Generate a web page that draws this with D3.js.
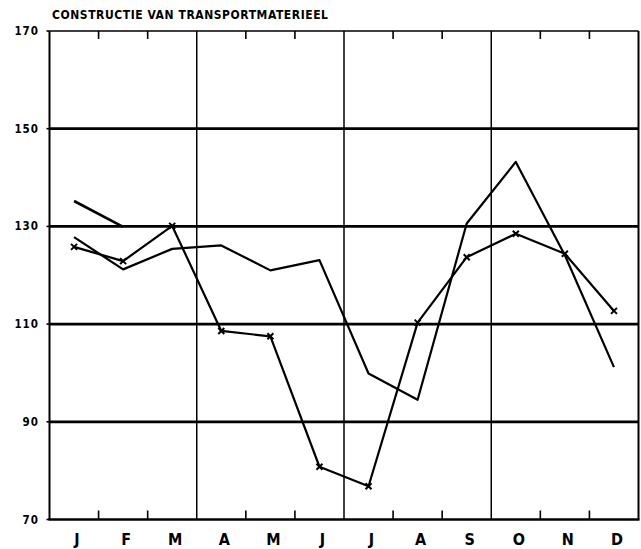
<!DOCTYPE html>
<html>
<head>
<meta charset="utf-8">
<script src="https://cdn.jsdelivr.net/npm/d3@7"></script>
<style>
  body { margin: 0; background: #fff; }
  text { font-family: "DejaVu Sans Condensed", "DejaVu Sans", sans-serif; font-weight: bold; fill: #000; }
</style>
</head>
<body>
<div id="app"></div>
<script>
const WIDTH = 641;
const HEIGHT = 549;

const TITLE = 'CONSTRUCTIE VAN TRANSPORTMATERIEEL';
const months = ['J', 'F', 'M', 'A', 'M', 'J', 'J', 'A', 'S', 'O', 'N', 'D'];
const yTicks = [70, 90, 110, 130, 150, 170];

// series with crosses
const marked = [125.8, 122.9, 130.1, 108.6, 107.5, 80.8, 76.8, 110.3, 123.7, 128.5, 124.4, 112.7];
// plain line
const plain = [127.8, 121.2, 125.4, 126.1, 121, 123.1, 99.9, 94.5, 130.6, 143.2, 124.1, 101.2];
// short piece at the start (jan - feb)
const previous = [135.2, 129.9];

const svg = d3.select('#app')
  .append('svg')
  .attr('width', WIDTH)
  .attr('height', HEIGHT);

// month index -> x, band edges at idx +- 0.5
const x = d3.scaleLinear().domain([-0.5, 11.5]).range([49.5, 638.5]);
const y = d3.scaleLinear().domain([70, 170]).range([519.5, 31]);

// title
svg.append('text')
  .attr('x', 52)
  .attr('y', 19)
  .attr('font-size', 12)
  .attr('textLength', 276)
  .attr('lengthAdjust', 'spacing')
  .text(TITLE);

// horizontal grid lines
svg.selectAll('.hgrid')
  .data(yTicks.filter(d => d > 70 && d < 170))
  .enter()
  .append('line')
  .attr('x1', x(-0.5))
  .attr('x2', x(11.5))
  .attr('y1', d => y(d))
  .attr('y2', d => y(d))
  .attr('stroke', '#000')
  .attr('stroke-width', 2.8);

// top border
svg.append('line')
  .attr('x1', x(-0.5)).attr('x2', x(11.5))
  .attr('y1', y(170)).attr('y2', y(170))
  .attr('stroke', '#000').attr('stroke-width', 1.6);

// bottom axis
svg.append('line')
  .attr('x1', x(-0.5) - 1).attr('x2', x(11.5) + 1)
  .attr('y1', y(70)).attr('y2', y(70))
  .attr('stroke', '#000').attr('stroke-width', 2.4);

// left / right border
[-0.5, 11.5].forEach(v => {
  svg.append('line')
    .attr('x1', x(v)).attr('x2', x(v))
    .attr('y1', y(170)).attr('y2', y(70))
    .attr('stroke', '#000').attr('stroke-width', 2);
});

// quarter lines
svg.selectAll('.quarter')
  .data([2.5, 5.5, 8.5])
  .enter()
  .append('line')
  .attr('x1', d => x(d)).attr('x2', d => x(d))
  .attr('y1', y(170)).attr('y2', y(70))
  .attr('stroke', '#000').attr('stroke-width', 1.5);

// month ticks top and bottom
const tickIdx = [0.5, 1.5, 3.5, 4.5, 6.5, 7.5, 9.5, 10.5];
svg.selectAll('.ttop')
  .data(tickIdx)
  .enter()
  .append('line')
  .attr('x1', d => x(d)).attr('x2', d => x(d))
  .attr('y1', y(170)).attr('y2', y(170) + 8)
  .attr('stroke', '#000').attr('stroke-width', 1.6);
svg.selectAll('.tbot')
  .data(tickIdx)
  .enter()
  .append('line')
  .attr('x1', d => x(d)).attr('x2', d => x(d))
  .attr('y1', y(70)).attr('y2', y(70) - 9)
  .attr('stroke', '#000').attr('stroke-width', 1.6);

// small outward ticks on the left axis
svg.selectAll('.ltick')
  .data(yTicks)
  .enter()
  .append('line')
  .attr('x1', x(-0.5) - 3).attr('x2', x(-0.5))
  .attr('y1', d => y(d)).attr('y2', d => y(d))
  .attr('stroke', '#000').attr('stroke-width', 1.6);

// y labels
svg.selectAll('.ylab')
  .data(yTicks)
  .enter()
  .append('text')
  .attr('x', 39)
  .attr('y', d => y(d) + 4)
  .attr('text-anchor', 'end')
  .attr('font-size', 11.5)
  .attr('letter-spacing', 1)
  .text(d => d);

// month labels
svg.selectAll('.mlab')
  .data(months)
  .enter()
  .append('text')
  .attr('x', (d, i) => x(i) + 3)
  .attr('y', 545)
  .attr('text-anchor', 'middle')
  .attr('font-size', 16)
  .text(d => d);

const line = d3.line()
  .x((d, i) => x(i))
  .y(d => y(d));

svg.append('path')
  .datum(plain)
  .attr('d', line)
  .attr('fill', 'none')
  .attr('stroke', '#000')
  .attr('stroke-width', 2.2)
  .attr('stroke-linejoin', 'round');

svg.append('path')
  .datum(marked)
  .attr('d', line)
  .attr('fill', 'none')
  .attr('stroke', '#000')
  .attr('stroke-width', 2.2)
  .attr('stroke-linejoin', 'round');

svg.append('path')
  .datum(previous)
  .attr('d', line)
  .attr('fill', 'none')
  .attr('stroke', '#000')
  .attr('stroke-width', 2.6);

// crosses
const s = 3;
svg.selectAll('.cross')
  .data(marked)
  .enter()
  .append('path')
  .attr('d', (d, i) => {
    const cx = x(i), cy = y(d);
    return `M${cx - s},${cy - s}L${cx + s},${cy + s}M${cx - s},${cy + s}L${cx + s},${cy - s}`;
  })
  .attr('stroke', '#000')
  .attr('stroke-width', 2);
</script>
</body>
</html>
